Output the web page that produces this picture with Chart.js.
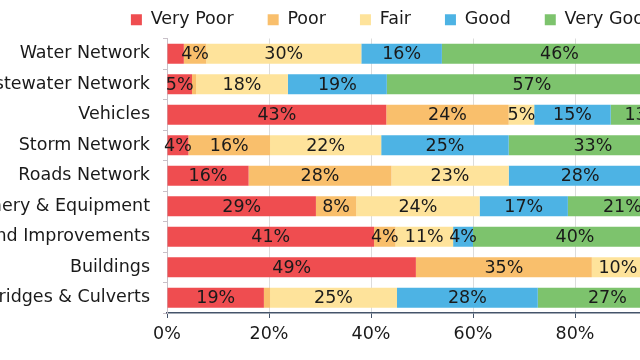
<!DOCTYPE html>
<html>
<head>
<meta charset="utf-8">
<script src="https://cdn.jsdelivr.net/npm/chart.js@4/dist/chart.umd.min.js"></script>
<style>
  html, body { margin: 0; padding: 0; background: #fff; overflow: hidden; }
  #wrap { position: absolute; left: 0; top: 0; width: 786px; height: 360px; }
</style>
</head>
<body>
<div id="wrap"><canvas id="conditionChart" width="786" height="360"></canvas></div>
<script>
const categories = ['Water Network', 'Wastewater Network', 'Vehicles', 'Storm Network', 'Roads Network',
    'Machinery & Equipment', 'Land Improvements', 'Buildings', 'Bridges & Culverts'];
const ratings = ['Very Poor', 'Poor', 'Fair', 'Good', 'Very Good'];
const veryPoor = [3.3, 4.9, 43, 4.2, 16, 29.2, 40.6, 48.8, 19];
const poor = [4.4, 0.8, 24, 16, 28, 7.9, 4.2, 34.5, 1.2];
const fair = [30.4, 18, 5, 21.8, 23, 24.2, 11.3, 10.2, 24.9];
const good = [15.8, 19.4, 15, 25, 28, 17.3, 3.9, 4.5, 27.6];
const veryGood = [46.1, 56.9, 13, 33, 5, 21.4, 40, 2, 27.3];
const colors = ['#EF4D50', '#F9BF6C', '#FEE39B', '#4DB3E4', '#7DC36D'];

const FONT = { family: 'DejaVu Sans', size: 17.5 };
const TEXT = '#1a1a1a';

// draws the % label in the middle of each segment (skips tiny ones)
const segmentLabels = {
    id: 'segmentLabels',
    afterDatasetsDraw(chart) {
        const ctx = chart.ctx;
        ctx.save();
        ctx.font = `${FONT.size}px ${FONT.family}`;
        ctx.fillStyle = TEXT;
        ctx.textAlign = 'center';
        ctx.textBaseline = 'middle';
        chart.data.datasets.forEach((ds, i) => {
            chart.getDatasetMeta(i).data.forEach((bar, j) => {
                const v = ds.data[j];
                if (v < 3.5) return;
                ctx.fillText(Math.round(v) + '%', (bar.x + bar.base) / 2, bar.y + 1);
            });
        });
        ctx.restore();
    }
};

const seriesData = [veryPoor, poor, fair, good, veryGood];

new Chart(document.getElementById('conditionChart').getContext('2d'), {
    type: 'bar',
    data: {
        labels: categories,
        datasets: ratings.map((r, i) => ({
            label: r, data: seriesData[i], backgroundColor: colors[i], borderWidth: 0,
            barPercentage: 0.65, categoryPercentage: 1, yAxisID: 'y', xAxisID: 'x'
        }))
    },
    options: {
        indexAxis: 'y',
        responsive: false,
        animation: false,
        // legend padding also adds height above the items, pull it back up
        layout: { padding: { top: -23, left: 0, right: 0, bottom: 0 } },
        plugins: {
            legend: {
                position: 'top',
                labels: { font: FONT, color: TEXT, boxWidth: 11, boxHeight: 11, padding: 34 }
            },
            tooltip: { enabled: false }
        },
        scales: {
            x: {
                stacked: true, min: 0, max: 100,
                afterFit: s => { s.height = 47; },
                ticks: { stepSize: 20, font: FONT, color: TEXT, padding: 6, callback: v => v + '%' },
                grid: { color: '#dcdcdc', tickColor: '#44546a', tickLength: 5 },
                border: { color: '#44546a', width: 1.5 }
            },
            y: {
                stacked: true,
                afterFit: s => { s.width = 167; s.paddingTop = 0; s.paddingBottom = 0; },
                ticks: { font: FONT, color: TEXT, padding: 13 },
                grid: { drawOnChartArea: false, tickLength: 4, tickColor: '#c8c0c8' },
                border: { color: '#c8c0c8' }
            },
            yR: {
                type: 'linear', position: 'right', axis: 'y',
                afterFit: s => { s.width = 109; },
                ticks: { display: false },
                grid: { display: false },
                border: { display: false }
            }
        }
    },
    plugins: [segmentLabels]
});
</script>
</body>
</html>
